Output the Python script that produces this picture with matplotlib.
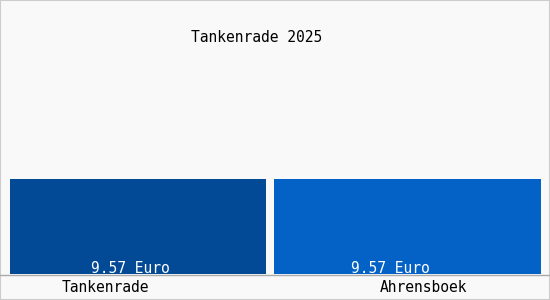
import matplotlib
matplotlib.use("Agg")
import matplotlib.pyplot as plt

plt.rcParams['font.family'] = 'DejaVu Sans Mono'

title = "Tankenrade 2025"
places = ["Tankenrade", "Ahrensboek"]
prices = [9.57, 9.57]
value_labels = ["9.57 Euro", "9.57 Euro"]
colors = ["#034a96", "#0462c6"]

W, H = 550, 300
fig = plt.figure(figsize=(W / 100, H / 100), dpi=100)
fig.patch.set_facecolor("#f9f9f9")

# plot area: baseline at y=274px, bars reach 179px
left, right = 10, 541
base, top = 274, 20
ax = fig.add_axes([left / W, (H - base) / H, (right - left) / W, (base - top) / H])
ax.set_facecolor("none")

widths = [0.95, 0.991]
xs = list(range(len(prices)))
ax.bar(xs, prices, width=widths, color=colors, linewidth=0)
ax.set_xlim(-widths[0] / 2, xs[-1] + widths[-1] / 2)
ax.set_ylim(0, prices[0] * (base - top) / (base - 179))
ax.axis("off")

# value labels near the bottom of each bar
label_off = [-0.03, -0.065]
for x, lab, d in zip(xs, value_labels, label_off):
    ax.text(x + d, prices[x] * 0.06, lab, color="white", ha="center",
            va="center", fontsize=10.5)

# category labels under the baseline
cat_off = [-0.122, 0.061]
for x, lab, d in zip(xs, places, cat_off):
    ax.text(x + d, -prices[0] * 0.14, lab, color="black", ha="center",
            va="center", fontsize=10.5, clip_on=False)

fig.text(257 / W, 1 - 38 / H, title, ha="center", va="center", fontsize=10.5)

# baseline and frame
fig.add_artist(plt.Line2D([0, 1], [(H - 274.5) / H] * 2, color="#aaaaaa", lw=1))
fig.add_artist(plt.Rectangle((0, 0), 1, 1, fill=False, edgecolor="#cccccc",
                             lw=1.5, transform=fig.transFigure))

fig.savefig("out.png", dpi=100, facecolor=fig.get_facecolor())
